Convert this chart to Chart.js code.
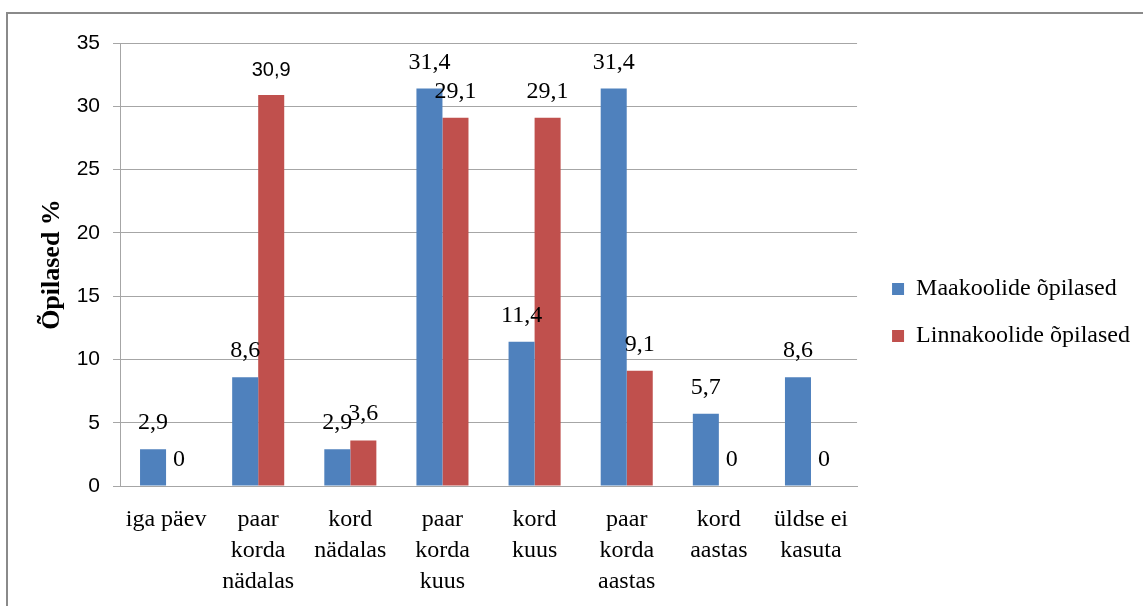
<!DOCTYPE html>
<html><head><meta charset="utf-8">
<script src="https://cdn.jsdelivr.net/npm/chart.js@4.4.0/dist/chart.umd.min.js"></script>
<style>
html,body{margin:0;padding:0;background:#fff;overflow:hidden;width:1143px;height:606px}
#frame{position:absolute;left:6px;top:12px;width:1300px;height:800px;border:2px solid #8a8a8a;box-sizing:border-box}
#wrap{position:absolute;left:0;top:0;width:1143px;height:606px}
</style></head><body>
<div id="frame"></div>
<div id="wrap"><canvas id="c" width="1143" height="606"></canvas></div>
<script>
const categories = [['iga päev'], ['paar','korda','nädalas'], ['kord','nädalas'], ['paar','korda','kuus'], ['kord','kuus'], ['paar','korda','aastas'], ['kord','aastas'], ['üldse ei','kasuta']];
const maakoolid = [2.9, 8.6, 2.9, 31.4, 11.4, 31.4, 5.7, 8.6];
const linnakoolid = [0, 30.9, 3.6, 29.1, 29.1, 9.1, 0, 0];
const seriesNames = ['Maakoolide õpilased', 'Linnakoolide õpilased'];
const yAxisTitle = 'Õpilased %';
const yMin = 0, yMax = 35, yStep = 5;

const GRID = '#a6a6a6';
const SERIF = '"Liberation Serif", "Times New Roman", serif';
const SANS = '"Liberation Sans", Arial, sans-serif';

const valueLabels = {
  id: 'valueLabels',
  afterDatasetsDraw(chart) {
    const ctx = chart.ctx;
    ctx.save();
    ctx.fillStyle = '#000';
    ctx.textAlign = 'center';
    ctx.textBaseline = 'alphabetic';
    chart.data.datasets.forEach((ds, di) => {
      const meta = chart.getDatasetMeta(di);
      meta.data.forEach((bar, i) => {
        const v = ds.data[i];
        const sans = (di === 1 && i === 1);
        ctx.font = sans ? '20px ' + SANS : '24px ' + SERIF;
        ctx.fillText(String(v).replace('.', ','), bar.x, bar.y - (sans ? 18.5 : 20));
      });
    });
    ctx.restore();
  }
};

new Chart(document.getElementById('c'), {
  type: 'bar',
  data: {
    labels: categories,
    datasets: [
      { label: seriesNames[0], data: maakoolid, backgroundColor: '#4f81bd', borderWidth: 0 },
      { label: seriesNames[1], data: linnakoolid, backgroundColor: '#c0504d', borderWidth: 0 }
    ]
  },
  options: {
    responsive: false,
    animation: false,
    devicePixelRatio: 1,
    datasets: { bar: { categoryPercentage: 0.565, barPercentage: 1 } },
    layout: { padding: { top: 19, left: 0, right: 3, bottom: 0 } },
    plugins: {
      title: {
        display: true, text: '', fullSize: false,
        padding: 0, font: { size: 12, lineHeight: 2 }
      },
      legend: {
        position: 'right',
        maxWidth: 400,
        labels: {
          boxWidth: 12, boxHeight: 12, padding: 23,
          color: '#000',
          font: { family: SERIF, size: 24 }
        }
      },
      tooltip: { enabled: false }
    },
    scales: {
      x: {
        grid: { display: false, drawTicks: false },
        border: { display: true, color: GRID, width: 1 },
        ticks: {
          color: '#000', maxRotation: 0, autoSkip: false, padding: 18,
          font: { family: SERIF, size: 24, lineHeight: 1.3 }
        },
        afterFit(s) { s.height = 120; }
      },
      y: {
        min: yMin, max: yMax,
        ticks: { stepSize: yStep, color: '#000', padding: 13, font: { family: SANS, size: 21 } },
        grid: { color: GRID, lineWidth: 1, tickLength: 7, drawTicks: true },
        border: { display: true, color: GRID, width: 1 },
        title: {
          display: true, text: yAxisTitle, color: '#000',
          font: { family: SERIF, size: 26, weight: 'bold', lineHeight: 1.2 },
          padding: { top: 37, bottom: 0 }
        },
        afterFit(s) { s.width = 120; }
      },
      gap: {
        position: 'right', display: true,
        grid: { display: false }, ticks: { display: false }, border: { display: false },
        afterFit(s) { s.width = 12; }
      }
    }
  },
  plugins: [valueLabels]
});
</script>
</body></html>
